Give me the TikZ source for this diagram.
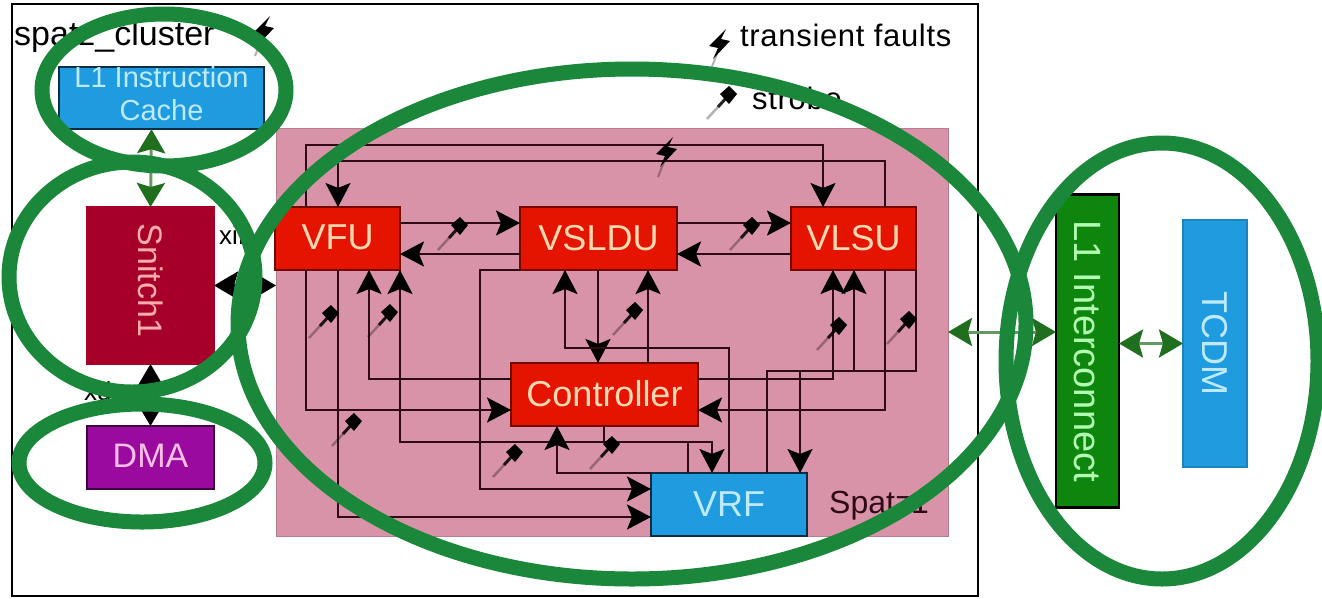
\documentclass[tikz,border=0pt]{standalone}
\usepackage{fontspec}
\setmainfont{Liberation Sans}
\usetikzlibrary{arrows.meta,shapes.geometric}
\definecolor{wirec}{HTML}{2E0A16}
\definecolor{spatzbg}{HTML}{D993A8}
\definecolor{redbox}{HTML}{E51400}
\definecolor{bluebox}{HTML}{1F9BDF}
\definecolor{snitchc}{HTML}{A6002A}
\definecolor{dmac}{HTML}{9A0A9E}
\definecolor{interc}{HTML}{0E860E}
\definecolor{ringc}{HTML}{1A873B}
\definecolor{darkgr}{HTML}{1F6F1F}
\newcommand{\fsz}[1]{\fontsize{#1}{#1}\selectfont}
\tikzset{
  box/.style={draw=#1,line width=2.5pt,inner sep=0pt,outer sep=0pt,align=center},
  box/.default=black,
  wire/.style={draw=wirec,line width=2.5pt,-{Stealth[length=24pt,width=25pt,inset=5pt,black]}},
  biblack/.style={draw=black,line width=3pt,{Stealth[length=24pt,width=28pt,inset=4pt,black]}-{Stealth[length=24pt,width=28pt,inset=4pt,black]}},
  bigreen/.style={draw=darkgr!70!white,line width=3pt,{Stealth[length=24pt,width=28pt,inset=4pt,darkgr]}-{Stealth[length=24pt,width=28pt,inset=4pt,darkgr]}},
  ring/.style={draw=ringc,line width=15pt,ellipse,inner sep=0pt,outer sep=0pt},
  label/.style={anchor=base west,inner sep=0pt,text=#1},
  label/.default=black,
  bolt/.pic={
    \draw[black,opacity=.3,line width=2pt] (-3,9) -- (-9,24);
    \fill[black] (6,-16) -- (-11,1) -- (-2,3) -- (-7,14) -- (10,-4) -- (1,-6) -- cycle;
  },
  pin/.pic={
    \draw[black,opacity=.3,line width=2.5pt] (0,0) -- (-20,22);
    \draw[black,opacity=.8,line width=3pt] (0,0) -- (-9,10);
    \fill[black] (-7,-3) -- (2,-11) -- (10,-3) -- (2,7) -- cycle;
  }
}
\begin{document}
\begin{tikzpicture}[x=1pt,y=-1pt]
\useasboundingbox (0,0) rectangle (1322,598);
\fill[white] (0,0) rectangle (1322,598);
% frame and Spatz background
\node[draw=black,line width=2.5pt,inner sep=0pt,outer sep=0pt,minimum width=966pt,minimum height=592pt] (frame) at (495,300) {};
\node[fill=spatzbg,draw=spatzbg!85!black,line width=1pt,inner sep=0pt,outer sep=0pt,minimum width=672pt,minimum height=408pt] (spatz) at (612,332) {};
% labels
\node[label,font=\fsz{34}] (cl) at (14,45) {spatz\_cluster};
\node[label,font=\fsz{31}\addfontfeatures{LetterSpace=2.2}] (tf) at (740,46) {transient faults};
\node[label,font=\fsz{31}\addfontfeatures{LetterSpace=2.2}] (st) at (752,109) {strobe};
\node[label=wirec,font=\fsz{32}] (sp) at (829,513) {Spatz1};
\node[label,font=\fsz{26}] (x1) at (219,244) {xif};
\node[label,font=\fsz{26}] (x2) at (84,400) {xdma};
% boxes
\node[box=black!70!bluebox,fill=bluebox,text=cyan!25!white,font=\fsz{29},minimum width=205pt,minimum height=62pt] (cache) at (161.5,98) {\raisebox{-3pt}{\begin{tabular}{@{}c@{}}L1 Instruction\\[3pt]Cache\end{tabular}}};
\node[box=snitchc,fill=snitchc,minimum width=127pt,minimum height=157pt] (snitch) at (150.5,285.5) {};
\node[rotate=-90,text=pink!90!red,font=\fsz{34},inner sep=0pt] (snitchlab) at ([yshift=5pt]snitch.center) {Snitch1};
\node[box=black!60!dmac,fill=dmac,text=magenta!25!white,font=\fsz{34},minimum width=127pt,minimum height=63pt] (dma) at (150.5,457.5) {\raisebox{3pt}{DMA}};
\tikzset{redb/.style={box=black!50!redbox,fill=redbox,text=orange!30!white,font=\fsz{36},minimum height=63pt}}
\node[redb,minimum width=125pt] (vfu) at (337.5,238.5) {\raisebox{2pt}{VFU}};
\node[redb,minimum width=157pt] (vsldu) at (598.5,238.5) {\raisebox{2pt}{VSLDU}};
\node[redb,minimum width=125pt] (vlsu) at (853.5,238.5) {\raisebox{2pt}{VLSU}};
\node[redb,minimum width=187pt] (ctrl) at (604.5,394.5) {\raisebox{3pt}{Controller}};
\node[box=black!70!bluebox,fill=bluebox,text=cyan!25!white,font=\fsz{36},minimum width=156pt,minimum height=63pt] (vrf) at (729,504.5) {VRF};
\node[box=black,fill=interc,minimum width=63pt,minimum height=313pt] (inter) at (1087.5,351) {};
\node[rotate=-90,text=green!30!white,font=\fsz{38},inner sep=0pt] (interlab) at (inter) {L1 Interconnect};
\node[box=bluebox!85!black,fill=bluebox,minimum width=64pt,minimum height=247pt] (tcdm) at (1215,343.5) {};
\node[rotate=-90,text=cyan!25!white,font=\fsz{36},inner sep=0pt] (tcdmlab) at (tcdm) {TCDM};
% wires
\draw[wire] ([xshift=31pt]vfu.north west) -- ++(0,-62) -| ([xshift=32pt]vlsu.north west);
\draw[wire] ([xshift=94pt]vlsu.north west) -- ++(0,-46) -| ([xshift=63pt]vfu.north west);
\draw[wire] ([yshift=-16pt]vfu.north east) -- ([yshift=-16pt]vsldu.north west);
\draw[wire] ([yshift=16pt]vsldu.south west) -- ([yshift=16pt]vfu.south east);
\draw[wire] ([yshift=-16pt]vsldu.north east) -- ([yshift=-16pt]vlsu.north west);
\draw[wire] ([yshift=16pt]vlsu.south west) -- ([yshift=16pt]vsldu.south east);
\draw[wire] ([xshift=31pt]vfu.south west) |- ([yshift=16pt]ctrl.south west);
\draw[wire] ([xshift=63pt]vfu.south west) |- ([yshift=19pt]vrf.south west);
\draw[wire] ([yshift=-16pt]ctrl.north west) -| ([xshift=94pt]vfu.south west);
\draw[wire] ([xshift=37pt]vrf.north west) -- ++(0,-31) -| (vfu.south east);
\draw[wire] ([xshift=93pt]ctrl.south west) -- ++(0,16) -| ([xshift=61pt]vrf.north west);
\draw[wire] (vsldu.south west) -- ++(-40,0) |- ([yshift=-16pt]vrf.north west);
\draw[wire] ([xshift=78pt]vsldu.south west) -- ([xshift=87pt]ctrl.north west);
\draw[wire] ([xshift=137pt]ctrl.north west) -- ([xshift=128pt]vsldu.south west);
\draw[wire] ([xshift=78pt]vrf.north west) -- ++(0,-125) -| ([xshift=45pt]vsldu.south west);
\draw[wire] (vrf.north west) -| ([xshift=46pt]ctrl.south west);
\draw[wire] ([yshift=-16pt]ctrl.north east) -| ([xshift=42pt]vlsu.south west);
\draw[wire] ([xshift=116pt]vrf.north west) -- ++(0,-102) -| ([xshift=63pt]vlsu.south west);
\draw[wire] ([xshift=94pt]vlsu.south west) |- ([yshift=16pt]ctrl.south east);
\draw[wire] (vlsu.south east) -- ++(0,101) -| ([xshift=149pt]vrf.north west);
% block level links
\draw[bigreen] ([xshift=-10pt]cache.south) -- (snitch.north);
\draw[biblack] (snitch.east) -- (snitch.east -| spatz.west);
\draw[biblack] (snitch.south) -- (dma.north);
\coordinate (ic) at ([yshift=19pt]inter.west);
\draw[bigreen] (ic -| spatz.east) -- (ic);
\draw[bigreen] (tcdm.west -| inter.east) -- (tcdm.west);
% fault markers
\pic at (264,32) {bolt};
\pic at (720,45) {bolt};
\pic at (667,153) {bolt};
\foreach \px/\py in {727/97,458/228,750/228,329/316,388/315,352/424,513/455,610/447,633/313,837/328,907/322}{
  \pic at (\px,\py) {pin};
}
% rings
\node[ring,minimum width=244pt,minimum height=152pt] (r1) at (164,90) {};
\node[ring,minimum width=246pt,minimum height=230pt] (r2) at (132,277) {};
\node[ring,minimum width=246pt,minimum height=118pt] (r3) at (142,463) {};
\node[ring,minimum width=788pt,minimum height=510pt] (r4) at (632,324) {};
\node[ring,minimum width=312pt,minimum height=436pt] (r5) at (1162,361) {};
\end{tikzpicture}
\end{document}
